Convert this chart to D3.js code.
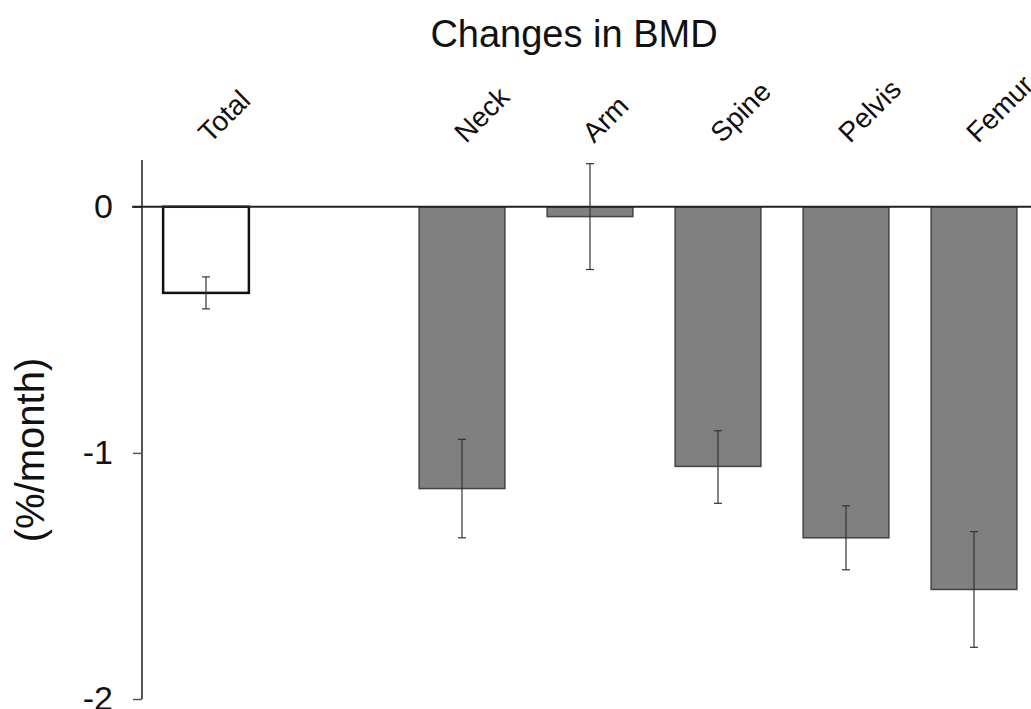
<!DOCTYPE html>
<html>
<head>
<meta charset="utf-8">
<script src="https://cdn.jsdelivr.net/npm/d3@7"></script>
<style>
  body { margin: 0; background: #fff; }
  svg { display: block; font-family: "Liberation Sans", Arial, sans-serif; }
</style>
</head>
<body>
<svg id="chart"></svg>
<script>
// Categories (the blank slot between Total and Neck is kept as an empty label)
const categories = ["Total", "", "Neck", "Arm", "Spine", "Pelvis", "Femur"];
// Mean change (%/month)
const values = [-0.35, null, -1.145, -0.04, -1.055, -1.345, -1.555];
// Error bar ends
const errLow = [-0.415, null, -1.345, -0.255, -1.205, -1.475, -1.79];
const errHigh = [-0.285, null, -0.945, 0.175, -0.91, -1.215, -1.32];
const yTicks = [0, -1, -2];

const W = 1031, H = 709;
const svg = d3.select("#chart").attr("width", W).attr("height", H);

// X scale
const x = d3.scaleBand()
    .domain(d3.range(categories.length))
    .range([142, 1038])
    .paddingInner(0.33)
    .paddingOuter(0.165);

// Y scale
const y = d3.scaleLinear()
    .domain([-2, 0.19])
    .range([699, 160]);

const data = categories.map((c, i) => ({ i, name: c, value: values[i], lo: errLow[i], hi: errHigh[i] }))
    .filter(d => d.value !== null);

// Title
svg.append("text")
    .attr("x", 574)
    .attr("y", 47)
    .attr("text-anchor", "middle")
    .style("font-size", "38px")
    .style("fill", "#111")
    .text("Changes in BMD");

// Y axis label
svg.append("text")
    .attr("transform", "translate(44,450) rotate(-90)")
    .attr("text-anchor", "middle")
    .style("font-size", "40px")
    .style("fill", "#111")
    .text("(%/month)");

// Bars
svg.selectAll(".bar")
    .data(data)
  .enter().append("rect")
    .attr("class", "bar")
    .attr("x", d => x(d.i))
    .attr("y", d => y(Math.max(0, d.value)))
    .attr("width", x.bandwidth())
    .attr("height", d => Math.abs(y(d.value) - y(0)))
    .attr("fill", d => d.name === "Total" ? "#fff" : "#808080")
    .attr("stroke", d => d.name === "Total" ? "#111" : "#444")
    .attr("stroke-width", d => d.name === "Total" ? 2.5 : 1.5);

// Y axis
const yAxis = svg.append("g")
    .attr("transform", "translate(142,0)")
    .call(d3.axisLeft(y).tickValues(yTicks).tickSize(9).tickPadding(20).tickFormat(d => String(d)));
yAxis.select(".domain").remove();
yAxis.append("line")
    .attr("y1", y(0.19)).attr("y2", y(-2))
    .attr("stroke", "#555").attr("stroke-width", 2);
yAxis.selectAll(".tick line").attr("stroke", "#555").attr("stroke-width", 1.5);
yAxis.selectAll(".tick text")
    .style("font-size", "34px")
    .style("fill", "#111")
    .style("font-family", "'Liberation Sans', Arial, sans-serif");

// Zero line
svg.append("line")
    .attr("x1", 132).attr("x2", W)
    .attr("y1", y(0)).attr("y2", y(0))
    .attr("stroke", "#222").attr("stroke-width", 2);

// Error bars
const eb = svg.selectAll(".err")
    .data(data)
  .enter().append("g")
    .attr("class", "err")
    .attr("stroke", "#333")
    .attr("stroke-width", 1.2);
eb.append("line")
    .attr("x1", d => x(d.i) + x.bandwidth() / 2)
    .attr("x2", d => x(d.i) + x.bandwidth() / 2)
    .attr("y1", d => y(d.hi))
    .attr("y2", d => y(d.lo));
eb.append("line")
    .attr("x1", d => x(d.i) + x.bandwidth() / 2 - 4)
    .attr("x2", d => x(d.i) + x.bandwidth() / 2 + 4)
    .attr("y1", d => y(d.hi)).attr("y2", d => y(d.hi));
eb.append("line")
    .attr("x1", d => x(d.i) + x.bandwidth() / 2 - 4)
    .attr("x2", d => x(d.i) + x.bandwidth() / 2 + 4)
    .attr("y1", d => y(d.lo)).attr("y2", d => y(d.lo));

// Category labels, rotated
svg.selectAll(".cat")
    .data(data)
  .enter().append("text")
    .attr("class", "cat")
    .attr("transform", d => `translate(${x(d.i) + x.bandwidth() / 2 + 4},${144}) rotate(-45)`)
    .attr("text-anchor", "start")
    .style("font-size", "28px")
    .style("fill", "#111")
    .text(d => d.name);
</script>
</body>
</html>
